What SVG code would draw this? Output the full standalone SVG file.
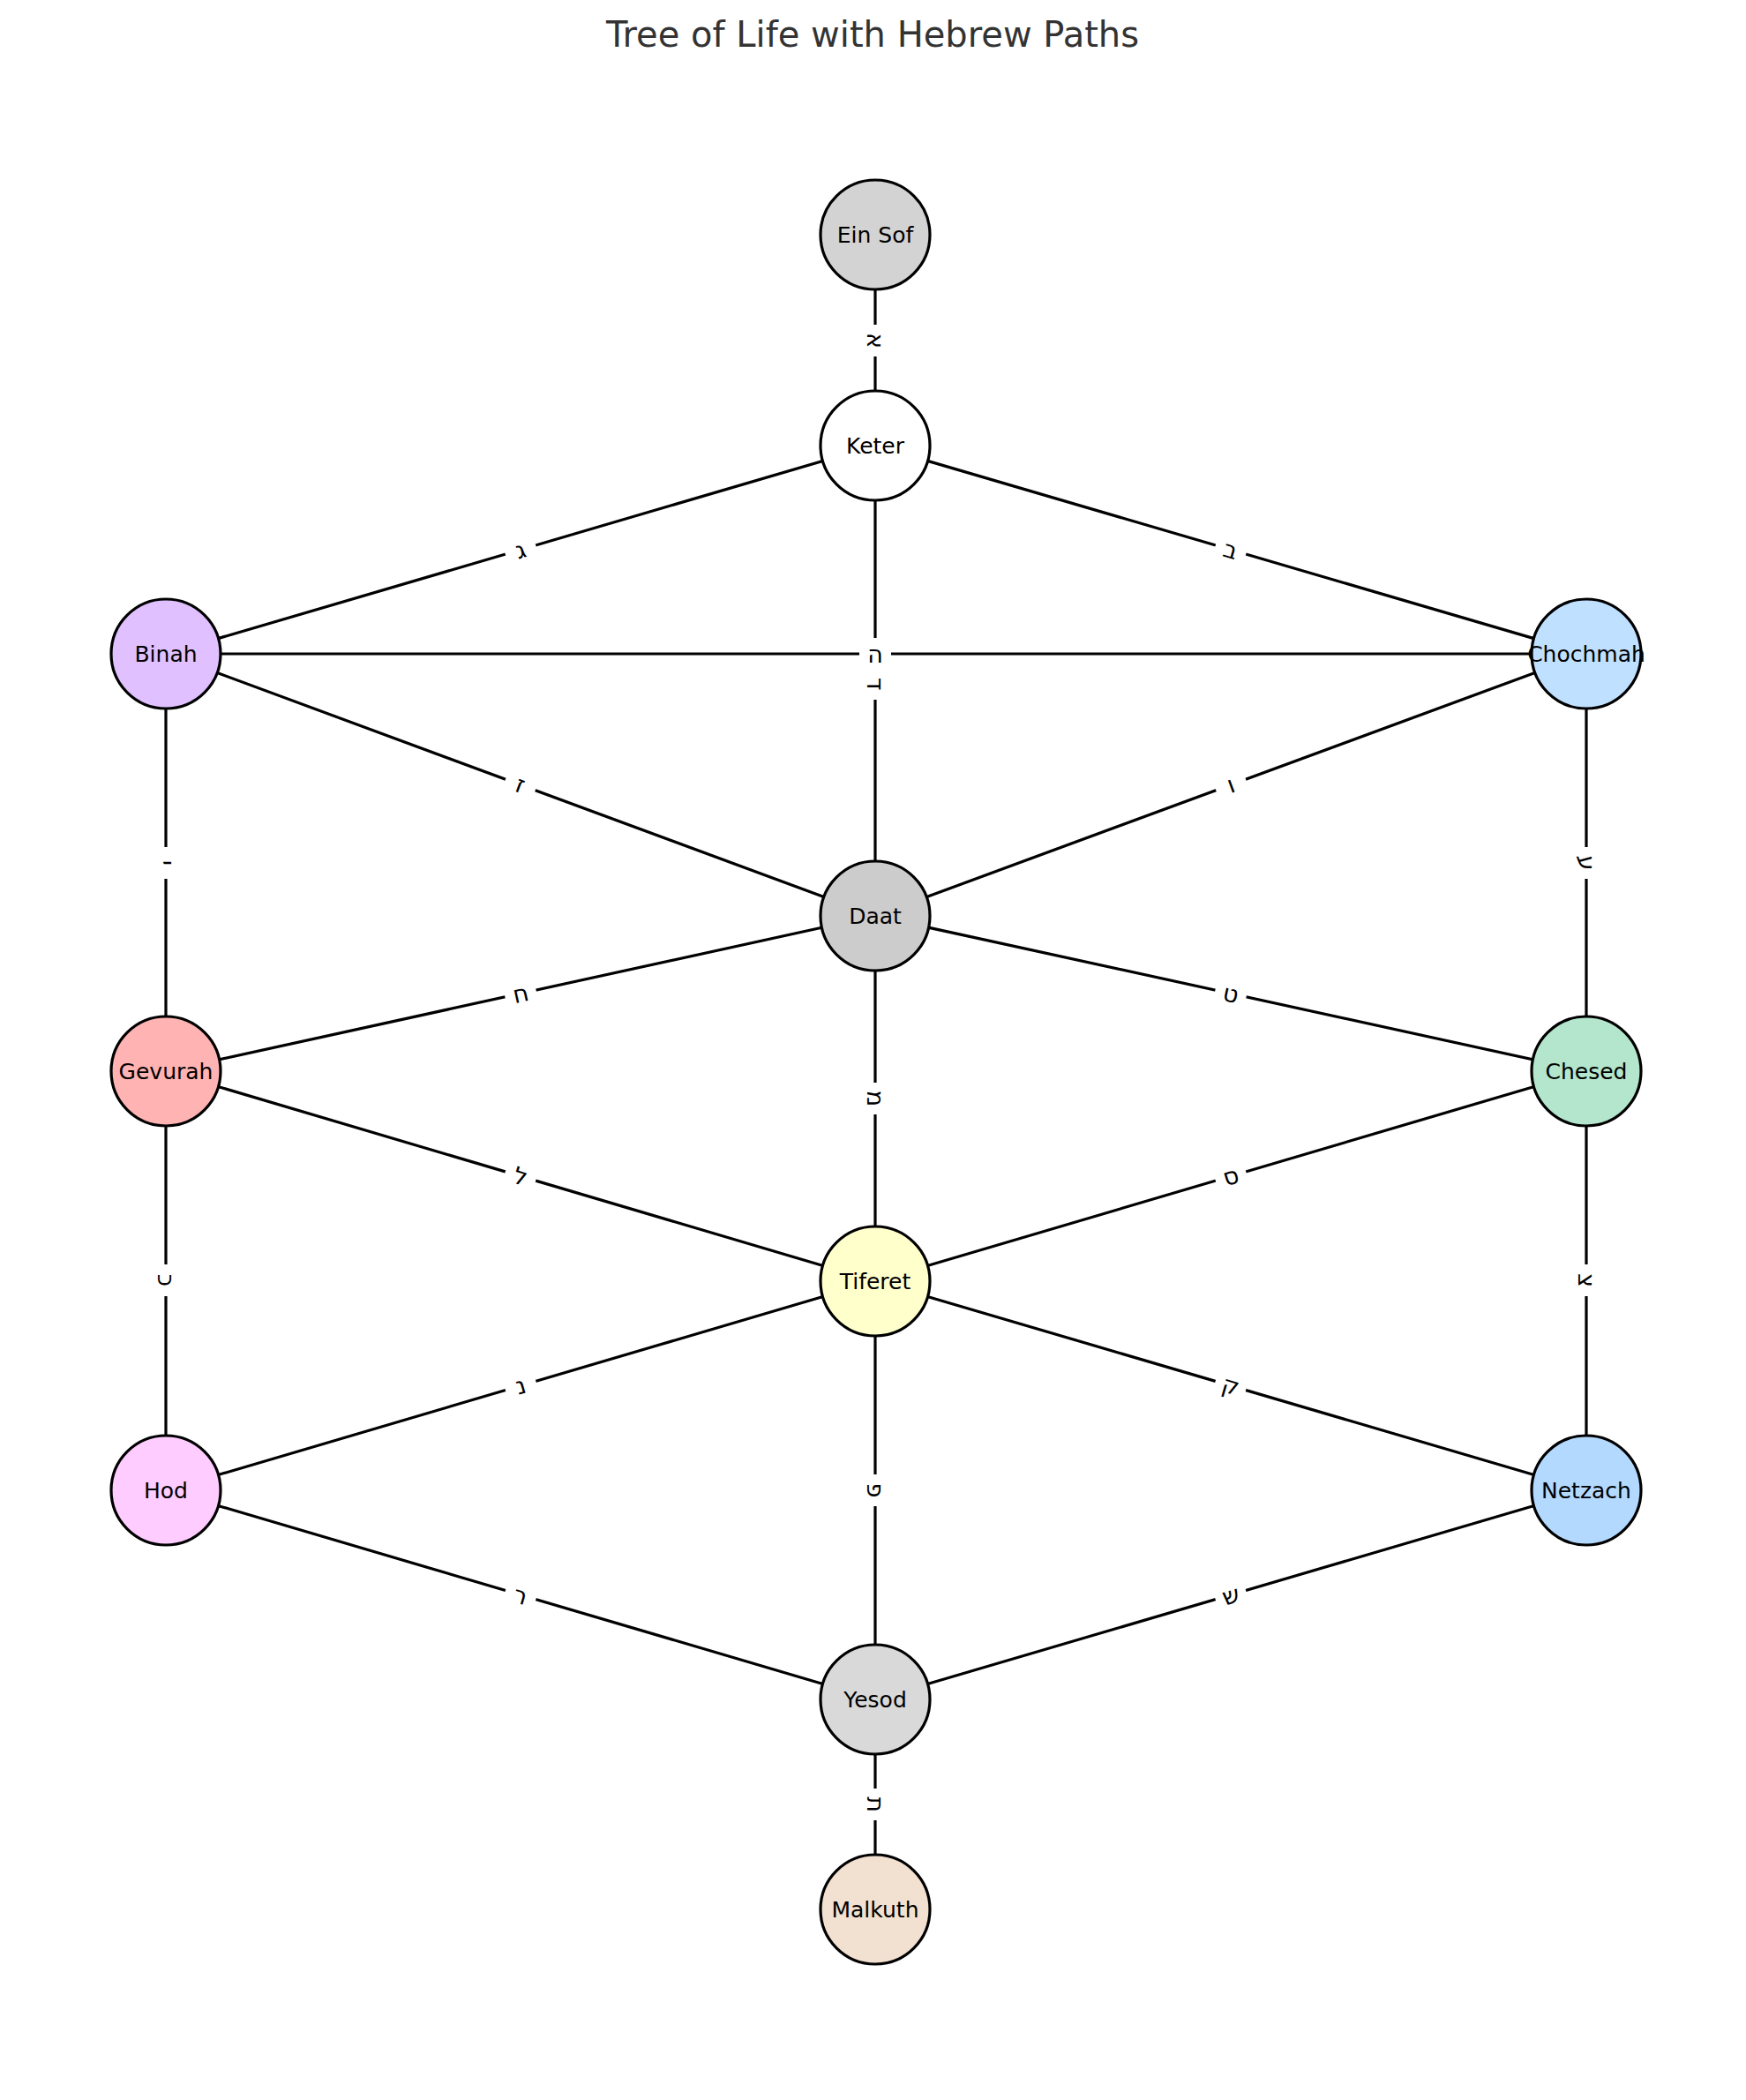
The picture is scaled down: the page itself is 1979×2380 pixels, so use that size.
<svg xmlns="http://www.w3.org/2000/svg" width="1979" height="2380" viewBox="0 0 1979 2380">
<style>
.e line{stroke:#000;stroke-width:3.2}
.n circle{stroke:#000;stroke-width:3.2}
.n text{font-family:"DejaVu Sans",sans-serif;font-size:25px;text-anchor:middle;dominant-baseline:central;fill:#000}
.l rect{fill:#fff}
.l text{font-family:"DejaVu Sans",sans-serif;font-size:27px;text-anchor:middle;dominant-baseline:central;fill:#000}
</style>
<rect width="1979" height="2380" fill="#fff"/>
<text x="989" y="39" font-family="DejaVu Sans,sans-serif" font-size="40" fill="#333" text-anchor="middle" dominant-baseline="central">Tree of Life with Hebrew Paths</text>
<g id="connectors" class="e">
<line x1="992" y1="266" x2="992" y2="505"/>
<line x1="992" y1="505" x2="188" y2="741"/>
<line x1="992" y1="505" x2="1798" y2="741"/>
<line x1="992" y1="505" x2="992" y2="1038"/>
<line x1="188" y1="741" x2="1798" y2="741"/>
<line x1="188" y1="741" x2="992" y2="1038"/>
<line x1="1798" y1="741" x2="992" y2="1038"/>
<line x1="188" y1="741" x2="188" y2="1214"/>
<line x1="1798" y1="741" x2="1798" y2="1214"/>
<line x1="992" y1="1038" x2="188" y2="1214"/>
<line x1="992" y1="1038" x2="1798" y2="1214"/>
<line x1="992" y1="1038" x2="992" y2="1452"/>
<line x1="188" y1="1214" x2="992" y2="1452"/>
<line x1="1798" y1="1214" x2="992" y2="1452"/>
<line x1="188" y1="1214" x2="188" y2="1689"/>
<line x1="1798" y1="1214" x2="1798" y2="1689"/>
<line x1="992" y1="1452" x2="188" y2="1689"/>
<line x1="992" y1="1452" x2="1798" y2="1689"/>
<line x1="992" y1="1452" x2="992" y2="1926"/>
<line x1="188" y1="1689" x2="992" y2="1926"/>
<line x1="1798" y1="1689" x2="992" y2="1926"/>
<line x1="992" y1="1926" x2="992" y2="2164"/>
</g>
<g id="labels" class="l">
<g transform="translate(992,386) rotate(90)"><rect x="-18" y="-18" width="36" height="36"/><text>א</text></g>
<g transform="translate(590,623) rotate(-16.4)"><rect x="-18" y="-18" width="36" height="36"/><text>ג</text></g>
<g transform="translate(1395,623) rotate(16.4)"><rect x="-18" y="-18" width="36" height="36"/><text>ב</text></g>
<g transform="translate(992,775) rotate(90)"><rect x="-18" y="-18" width="36" height="36"/><text>ד</text></g>
<g transform="translate(992,741)"><rect x="-18" y="-18" width="36" height="36"/><text>ה</text></g>
<g transform="translate(590,889) rotate(20.3)"><rect x="-18" y="-18" width="36" height="36"/><text>ז</text></g>
<g transform="translate(1395,889) rotate(-20.3)"><rect x="-18" y="-18" width="36" height="36"/><text>ו</text></g>
<g transform="translate(188,978) rotate(90)"><rect x="-18" y="-18" width="36" height="36"/><text>י</text></g>
<g transform="translate(1798,978) rotate(90)"><rect x="-18" y="-18" width="36" height="36"/><text>ע</text></g>
<g transform="translate(590,1126) rotate(-12.3)"><rect x="-18" y="-18" width="36" height="36"/><text>ח</text></g>
<g transform="translate(1395,1126) rotate(12.3)"><rect x="-18" y="-18" width="36" height="36"/><text>ט</text></g>
<g transform="translate(992,1245) rotate(90)"><rect x="-18" y="-18" width="36" height="36"/><text>מ</text></g>
<g transform="translate(590,1333) rotate(16.5)"><rect x="-18" y="-18" width="36" height="36"/><text>ל</text></g>
<g transform="translate(1395,1333) rotate(-16.5)"><rect x="-18" y="-18" width="36" height="36"/><text>ס</text></g>
<g transform="translate(188,1451) rotate(90)"><rect x="-18" y="-18" width="36" height="36"/><text>כ</text></g>
<g transform="translate(1798,1451) rotate(90)"><rect x="-18" y="-18" width="36" height="36"/><text>צ</text></g>
<g transform="translate(590,1570) rotate(-16.4)"><rect x="-18" y="-18" width="36" height="36"/><text>נ</text></g>
<g transform="translate(1395,1570) rotate(16.4)"><rect x="-18" y="-18" width="36" height="36"/><text>ק</text></g>
<g transform="translate(992,1689) rotate(90)"><rect x="-18" y="-18" width="36" height="36"/><text>פ</text></g>
<g transform="translate(590,1808) rotate(16.4)"><rect x="-18" y="-18" width="36" height="36"/><text>ר</text></g>
<g transform="translate(1395,1808) rotate(-16.4)"><rect x="-18" y="-18" width="36" height="36"/><text>ש</text></g>
<g transform="translate(992,2045) rotate(90)"><rect x="-18" y="-18" width="36" height="36"/><text>ת</text></g>
</g>
<g id="ein-sof" class="n"><circle cx="992" cy="266" r="62" fill="#d3d3d3"/><text x="992" y="266">Ein Sof</text></g>
<g id="keter" class="n"><circle cx="992" cy="505" r="62" fill="#ffffff"/><text x="992" y="505">Keter</text></g>
<g id="binah" class="n"><circle cx="188" cy="741" r="62" fill="#e0c0ff"/><text x="188" y="741">Binah</text></g>
<g id="chochmah" class="n"><circle cx="1798" cy="741" r="62" fill="#c0e0ff"/><text x="1798" y="741">Chochmah</text></g>
<g id="daat" class="n"><circle cx="992" cy="1038" r="62" fill="#cccccc"/><text x="992" y="1038">Daat</text></g>
<g id="gevurah" class="n"><circle cx="188" cy="1214" r="62" fill="#ffb3b3"/><text x="188" y="1214">Gevurah</text></g>
<g id="chesed" class="n"><circle cx="1798" cy="1214" r="62" fill="#b3e6cc"/><text x="1798" y="1214">Chesed</text></g>
<g id="tiferet" class="n"><circle cx="992" cy="1452" r="62" fill="#ffffcc"/><text x="992" y="1452">Tiferet</text></g>
<g id="hod" class="n"><circle cx="188" cy="1689" r="62" fill="#ffccff"/><text x="188" y="1689">Hod</text></g>
<g id="netzach" class="n"><circle cx="1798" cy="1689" r="62" fill="#b3d9ff"/><text x="1798" y="1689">Netzach</text></g>
<g id="yesod" class="n"><circle cx="992" cy="1926" r="62" fill="#d9d9d9"/><text x="992" y="1926">Yesod</text></g>
<g id="malkuth" class="n"><circle cx="992" cy="2164" r="62" fill="#f2e0d0"/><text x="992" y="2164">Malkuth</text></g>
</svg>
